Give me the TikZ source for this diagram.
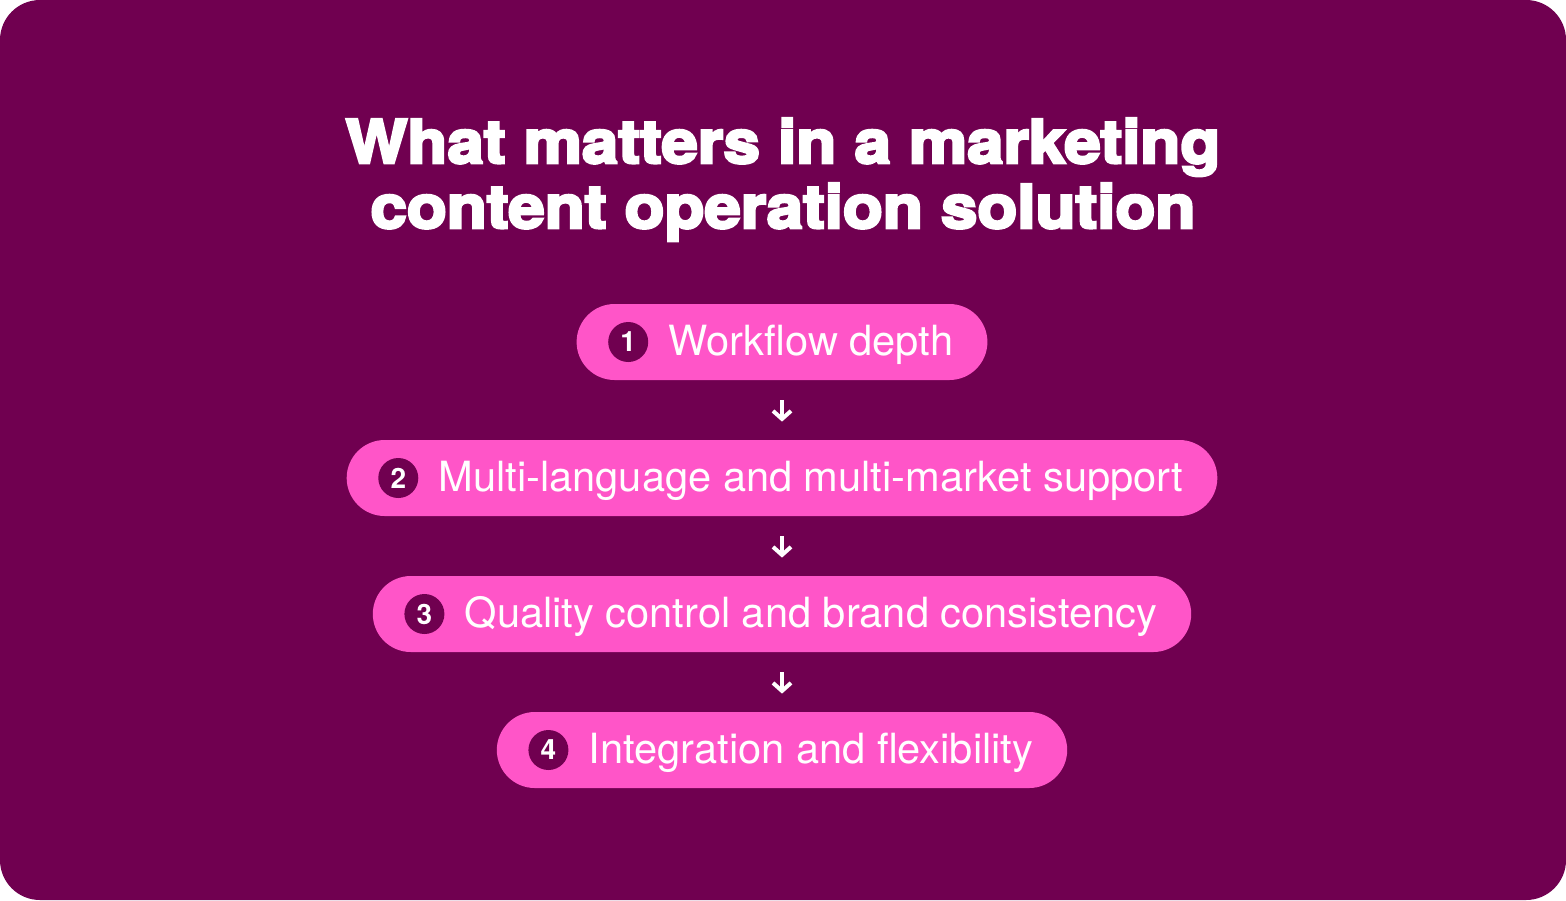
\documentclass[tikz,border=0pt]{standalone}
\usepackage{fontspec}
\setmainfont{TeX Gyre Heros}
\newfontfamily\headfont[FakeStretch=1.09, BoldFeatures={FakeBold=4.5}]{TeX Gyre Heros}
\usetikzlibrary{arrows.meta}

\definecolor{plum}{HTML}{700050}
\definecolor{candy}{HTML}{FF55C8}

\tikzset{
  headline/.style={text=white, font=\headfont\bfseries\fontsize{30pt}{32pt}\selectfont, inner sep=0pt},
  pill/.style={fill=candy, rounded corners=19pt, minimum height=38pt, inner xsep=17pt, inner ysep=0pt,
    text=white, font=\fontsize{20.8pt}{24pt}\selectfont, text height=16.5pt, text depth=3.5pt},
  numdot/.style={circle, fill=plum, minimum size=20pt, inner sep=0pt, text=white,
    font=\bfseries\fontsize{14pt}{16pt}\selectfont},
  nextstep/.style={-{Straight Barb[length=4pt, width=9pt, line width=2pt]}, white, line width=2pt,
    shorten <=10pt, shorten >=9pt}
}

\begin{document}
\begin{tikzpicture}[x=0.5pt, y=-0.5pt]
  % card
  \fill[plum, rounded corners=20pt] (0,0) rectangle (1566,900);
  \useasboundingbox (0,0) rectangle (1566,900);

  % heading
  \node[headline, anchor=base] (title1) at (783,163) {What matters in a marketing};
  \node[headline, anchor=base] (title2) at (783,228) {content operation solution};

  % steps
  \node[pill] (p1) at (782,342) {\hspace{29pt}Workflow depth};
  \node[pill] (p2) at (782,478) {\hspace{29pt}Multi-language and multi-market support};
  \node[pill] (p3) at (782,614) {\hspace{29pt}Quality control and brand consistency};
  \node[pill] (p4) at (782,750) {\hspace{29pt}Integration and flexibility};

  % numbers
  \foreach \i in {1,...,4}
    \node[numdot] (n\i) at ([xshift=26pt]p\i.west) {\i};

  % arrows
  \draw[nextstep] (p1.south) -- (p2.north);
  \draw[nextstep] (p2.south) -- (p3.north);
  \draw[nextstep] (p3.south) -- (p4.north);
\end{tikzpicture}
\end{document}
